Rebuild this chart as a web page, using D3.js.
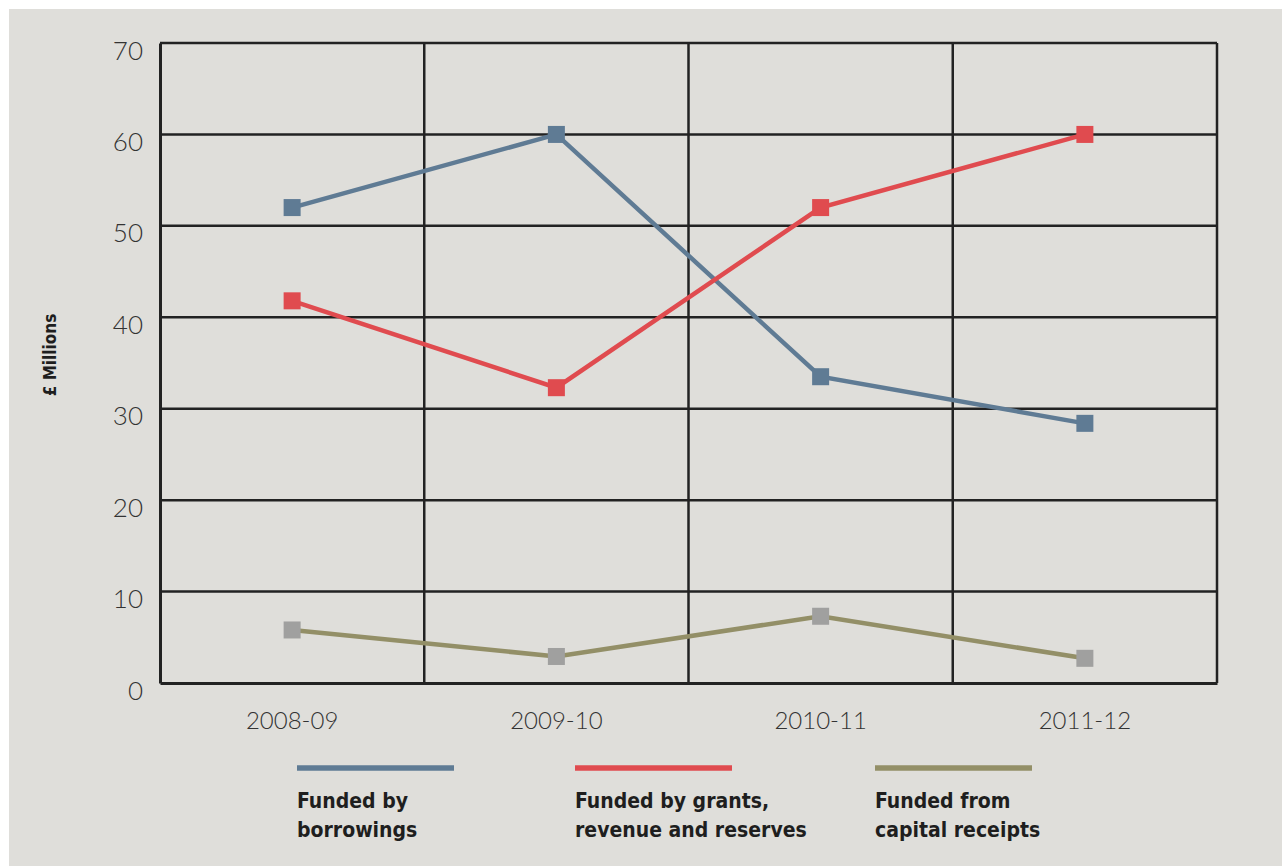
<!DOCTYPE html>
<html>
<head>
<meta charset="utf-8">
<script src="https://cdn.jsdelivr.net/npm/d3@7"></script>
<style>
  body { margin: 0; background: #ffffff; }
  .tick text { font-family: "Lato", "Open Sans", sans-serif; font-weight: 300; fill: #333; }
  .legend--label { font-family: "Liberation Sans Narrow", "DejaVu Sans Condensed", sans-serif; font-weight: bold; fill: #1e1e1e; }
</style>
</head>
<body>
<div id="chart"></div>
<script>

// data
const years = ["2008-09", "2009-10", "2010-11", "2011-12"];
const borrowings = [52.0, 60.0, 33.5, 28.4];
const grants = [41.8, 32.3, 52.0, 60.0];
const capitalReceipts = [5.8, 2.9, 7.3, 2.7];
const seriesNames = [["Funded by", "borrowings"], ["Funded by grants,", "revenue and reserves"], ["Funded from", "capital receipts"]];
const yTicks = [0, 10, 20, 30, 40, 50, 60, 70];

const width = 1282;
const height = 867;
const margin = {top: 43, left: 160, right: 65, bottom: 184};

const svg = d3.select("#chart")
    .append("svg")
    .attr("width", width)
    .attr("height", height);

// panel background
svg.append("rect")
    .attr("x", 9)
    .attr("y", 9)
    .attr("width", width - 9)
    .attr("height", height - 10)
    .attr("fill", "#dfdeda");

/*
SCALES
*/
const xScale = d3.scaleBand()
    .domain(years)
    .range([margin.left, width - margin.right]);

const yScale = d3.scaleLinear()
    .domain([0, 70])
    .range([height - margin.bottom, margin.top]);

const colors = ["#5f7b94", "#e04b4f", "#938f67"];

/*
GRID
*/
svg.append("g")
    .selectAll("line")
    .data(yTicks.slice(1))
    .join("line")
        .attr("x1", margin.left)
        .attr("x2", width - margin.right)
        .attr("y1", d => yScale(d))
        .attr("y2", d => yScale(d))
        .attr("stroke", "#222")
        .attr("stroke-width", 2.5);

svg.append("g")
    .selectAll("line")
    .data(years.slice(1))
    .join("line")
        .attr("x1", d => xScale(d))
        .attr("x2", d => xScale(d))
        .attr("y1", margin.top)
        .attr("y2", height - margin.bottom)
        .attr("stroke", "#222")
        .attr("stroke-width", 2.5);

// right border
svg.append("line")
    .attr("x1", width - margin.right)
    .attr("x2", width - margin.right)
    .attr("y1", margin.top)
    .attr("y2", height - margin.bottom)
    .attr("stroke", "#222")
    .attr("stroke-width", 2.5);

/*
AXES
*/
const yAxis = svg.append("g")
    .attr("transform", `translate(${margin.left},0)`)
    .call(d3.axisLeft(yScale).tickValues(yTicks).tickSize(0).tickPadding(17));
yAxis.select(".domain").attr("stroke", "#222").attr("stroke-width", 3);
yAxis.selectAll(".tick text").attr("font-size", 26).attr("dy", "0.62em");

const xAxis = svg.append("g")
    .attr("transform", `translate(0,${height - margin.bottom})`)
    .call(d3.axisBottom(xScale).tickSize(0).tickPadding(29));
xAxis.select(".domain").attr("stroke", "#222").attr("stroke-width", 3);
xAxis.selectAll(".tick text").attr("font-size", 24);

svg.append("text")
    .attr("transform", "rotate(-90)")
    .attr("x", -355)
    .attr("y", 56)
    .attr("text-anchor", "middle")
    .attr("font-family", "'Liberation Sans Narrow', 'DejaVu Sans Condensed', sans-serif")
    .attr("font-weight", "bold")
    .attr("font-size", 17)
    .attr("fill", "#1e1e1e")
    .text("£ Millions");

/*
LINES + MARKERS
*/
const allSeries = [borrowings, grants, capitalReceipts];
const line = d3.line()
    .x((d, i) => xScale(years[i]) + xScale.bandwidth() / 2)
    .y(d => yScale(d));

allSeries.forEach(function(values, s) {
    svg.append("path")
        .datum(values)
        .attr("d", line)
        .attr("fill", "none")
        .attr("stroke", colors[s])
        .attr("stroke-width", 4.5);

    svg.selectAll(".m" + s)
        .data(values)
        .join("rect")
            .attr("class", "m" + s)
            .attr("x", (d, i) => xScale(years[i]) + xScale.bandwidth() / 2 - 8.5)
            .attr("y", d => yScale(d) - 8.5)
            .attr("width", 17)
            .attr("height", 17)
            .attr("fill", s === 2 ? "#a0a09f" : colors[s]);
});

/*
LEGEND
*/
const legendX = [297, 575, 875];
seriesNames.forEach(function(label, i) {
    svg.append("line")
        .attr("x1", legendX[i])
        .attr("x2", legendX[i] + 157)
        .attr("y1", 768)
        .attr("y2", 768)
        .attr("stroke", colors[i])
        .attr("stroke-width", 5.5);

    label.forEach(function(t, j) {
        svg.append("text")
            .attr("class", "legend--label")
            .attr("x", legendX[i])
            .attr("y", 808 + j * 29)
            .attr("font-size", 21)
            .text(t);
    });
});

</script>
</body>
</html>
